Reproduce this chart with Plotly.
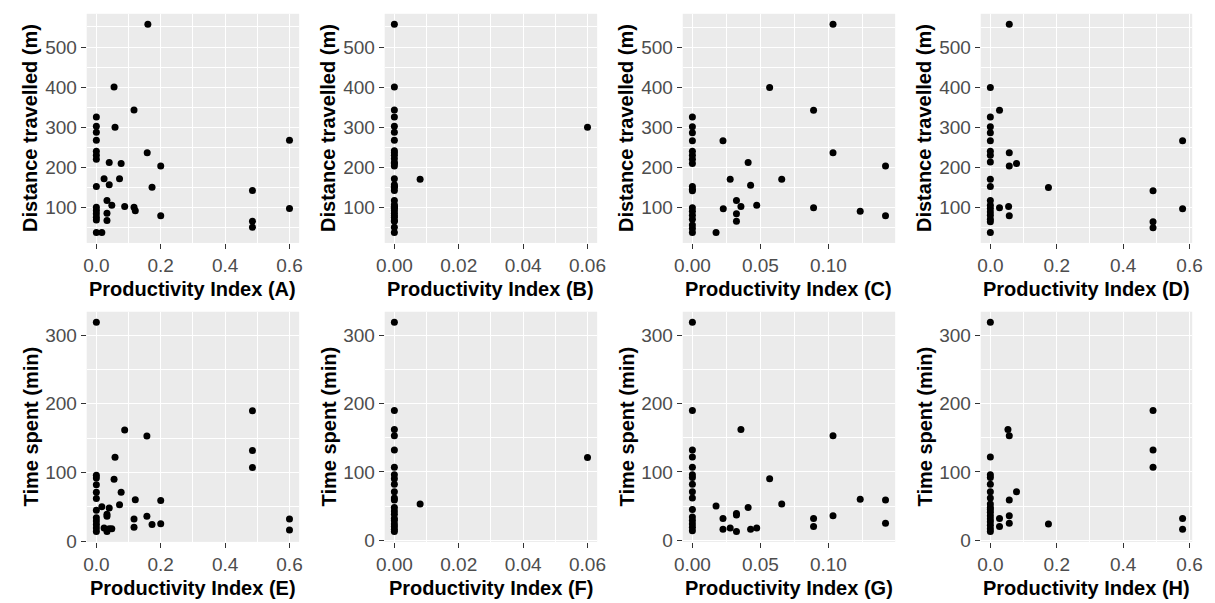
import plotly.graph_objects as go

# ---------------- data ----------------
# Distance travelled (m) vs productivity indices A-D
A_x = [0.16, 0.055, 0.117, 0, 0, 0, 0.058, 0, 0.6, 0, 0, 0, 0.158, 0.04, 0.077, 0.2, 0,
       0.024, 0.072, 0.04, 0.173, 0.485, 0.033, 0.048, 0.088, 0.117, 0.121, 0.6, 0, 0, 0,
       0, 0, 0.033, 0.033, 0.2, 0.485, 0.485, 0, 0.017]
A_y = [557, 400, 343, 325, 302, 287, 300, 267, 267, 240, 230, 220, 236, 212, 209, 203, 152,
       171, 171, 156, 150, 142, 117, 105, 102, 100, 91, 97, 100, 92, 84,
       75, 68, 85, 67, 79, 65, 50, 37, 37]

B_x = [0] * 32 + [0.008, 0.06]
B_y = [557, 400, 343, 325, 302, 287, 267, 241, 236, 230, 221, 212, 209, 203, 171, 156,
       152, 150, 142, 117, 106, 102, 100, 97, 91, 85, 79, 75, 67, 65, 50, 37, 170, 300]

C_x = [0] * 18 + [0.1034, 0.0568, 0.0891, 0.0225, 0.1034, 0.041, 0.142, 0.0278, 0.0657,
                  0.0428, 0.0324, 0.0357, 0.0473, 0.0227, 0.0891, 0.1234, 0.142, 0.0324,
                  0.0324, 0.0174]
C_y = [326, 302, 287, 267, 241, 231, 221, 210, 153, 146, 142, 100, 91, 81, 71, 57, 48, 38,
       558, 400, 343, 267, 237, 213, 204, 171, 171, 156, 118, 103, 106, 97, 100, 91, 80,
       85, 66, 38]

D_x = [0] * 18 + [0.057, 0.0276, 0.057, 0.057, 0.0788, 0.175, 0.49, 0.49, 0.49, 0.579,
                  0.579, 0.0276, 0.055, 0.057]
D_y = [400, 326, 302, 287, 267, 241, 231, 214, 171, 153, 118, 106, 98, 89, 81, 71, 65, 38,
       558, 343, 237, 204, 210, 150, 142, 65, 50, 267, 97, 100, 103, 80]

# Time spent (min) vs productivity indices E-H
E_x = [0] * 12 + [0.485, 0.485, 0.485, 0.088, 0.157, 0.058, 0.055, 0.077, 0.072, 0.121,
                  0.2, 0.117, 0.117, 0.157, 0.173, 0.2, 0.6, 0.6, 0.017, 0.04, 0.033,
                  0.033, 0.024, 0.033, 0.04, 0.048]
E_y = [319, 96, 92, 82, 71, 62, 45, 34, 29, 24, 19, 14,
       190, 132, 107, 162, 153, 122, 90, 71, 53, 60, 59, 32, 20, 36, 24, 25, 32, 16, 50,
       48, 39, 36, 19, 14, 18, 18]

F_x = [0] * 21 + [0.008, 0.06]
F_y = [319, 190, 162, 153, 132, 107, 96, 90, 82, 71, 62, 59, 48, 43, 38, 32, 29, 24, 20,
       16, 13, 53, 121]

G_x = [0] * 16 + [0.0357, 0.1034, 0.0568, 0.0657, 0.0174, 0.041, 0.0324, 0.0324, 0.0225,
                  0.0225, 0.0278, 0.0324, 0.0428, 0.0473, 0.0891, 0.0891, 0.1034, 0.1234,
                  0.142, 0.142]
G_y = [319, 190, 132, 122, 107, 96, 92, 82, 71, 62, 45, 34, 29, 24, 19, 14,
       162, 153, 90, 53, 50, 48, 39, 37, 32, 16, 18, 13, 16, 18, 32, 20, 36, 60, 59, 25]

H_x = [0] * 17 + [0.49, 0.49, 0.49, 0.053, 0.057, 0.0788, 0.057, 0.057, 0.057, 0.0276,
                  0.0276, 0.175, 0.579, 0.579]
H_y = [319, 122, 96, 92, 82, 71, 62, 53, 48, 45, 41, 36, 31, 27, 22, 17, 13,
       190, 132, 107, 162, 153, 71, 59, 36, 25, 32, 20, 24, 32, 16]

letters = ["A", "B", "C", "D", "E", "F", "G", "H"]
xs = [A_x, B_x, C_x, D_x, E_x, F_x, G_x, H_x]
ys = [A_y, B_y, C_y, D_y, E_y, F_y, G_y, H_y]

x_tick_step = [0.2, 0.02, 0.05, 0.2]
x_tick_fmt = [".1f", ".2f", ".2f", ".1f"]
y_titles = ["Distance travelled (m)", "Time spent (min)"]
x_title = "Productivity Index ({})"

# ---------------- layout geometry ----------------
W, H = 1215, 603
col_px = [(79, 295), (382, 598), (685, 901), (988, 1203)]
row_px = [(14, 247), (317, 551)]

def expand(vals):
    lo, hi = min(vals), max(vals)
    d = (hi - lo) * 0.05
    return [lo - d, hi + d]

FONT = "Liberation Sans, Arial, sans-serif"
fig = go.Figure()
layout = dict(
    width=W, height=H,
    margin=dict(l=0, r=0, t=0, b=0),
    paper_bgcolor="white",
    plot_bgcolor="#EBEBEB",
    showlegend=False,
    font=dict(family=FONT, size=19, color="#4D4D4D"),
)
annotations = []
tickfont = dict(family=FONT, size=19, color="#4D4D4D")
titlefont = dict(family=FONT, size=20, color="black")

for i in range(8):
    r, c = divmod(i, 4)
    n = i + 1
    xa = "x" if n == 1 else f"x{n}"
    ya = "y" if n == 1 else f"y{n}"
    fig.add_trace(go.Scatter(
        x=xs[i], y=ys[i], mode="markers", xaxis=xa, yaxis=ya,
        marker=dict(color="black", size=7, line=dict(width=0)),
        hoverinfo="x+y",
    ))
    x0, x1 = col_px[c]
    y0, y1 = row_px[r]
    xdom = [x0 / W, x1 / W]
    ydom = [1 - y1 / H, 1 - y0 / H]
    step = x_tick_step[c]
    layout["xaxis" if n == 1 else f"xaxis{n}"] = dict(
        domain=xdom, anchor=ya, range=expand(xs[i]),
        tick0=0, dtick=step, tickformat=x_tick_fmt[c],
        showgrid=True, gridcolor="white", gridwidth=1.4,
        zeroline=False, showline=False,
        ticks="outside", ticklen=5, tickwidth=1.2, tickcolor="#333333",
        tickfont=tickfont,
        minor=dict(tick0=0, dtick=step / 2, showgrid=True, gridcolor="white",
                   gridwidth=0.7, ticks=""),
    )
    layout["yaxis" if n == 1 else f"yaxis{n}"] = dict(
        domain=ydom, anchor=xa, range=expand(ys[i]),
        tick0=0, dtick=100,
        showgrid=True, gridcolor="white", gridwidth=1.4,
        zeroline=False, showline=False,
        ticks="outside", ticklen=5, tickwidth=1.2, tickcolor="#333333",
        tickfont=tickfont,
        minor=dict(tick0=0, dtick=50, showgrid=True, gridcolor="white",
                   gridwidth=0.7, ticks=""),
    )
    # axis titles
    annotations.append(dict(
        text=f"<b>{x_title.format(letters[i])}</b>", xref="paper", yref="paper",
        x=(x0 + x1) / 2 / W, y=1 - (y1 + 47) / H, xanchor="center", yanchor="middle",
        showarrow=False, font=titlefont,
    ))
    annotations.append(dict(
        text=f"<b>{y_titles[r]}</b>", xref="paper", yref="paper",
        x=(x0 - 57) / W, y=1 - (y0 + y1) / 2 / H, xanchor="center", yanchor="middle",
        textangle=-90, showarrow=False, font=titlefont,
    ))

layout["annotations"] = annotations
fig.update_layout(**layout)
fig.write_html("out.html")
